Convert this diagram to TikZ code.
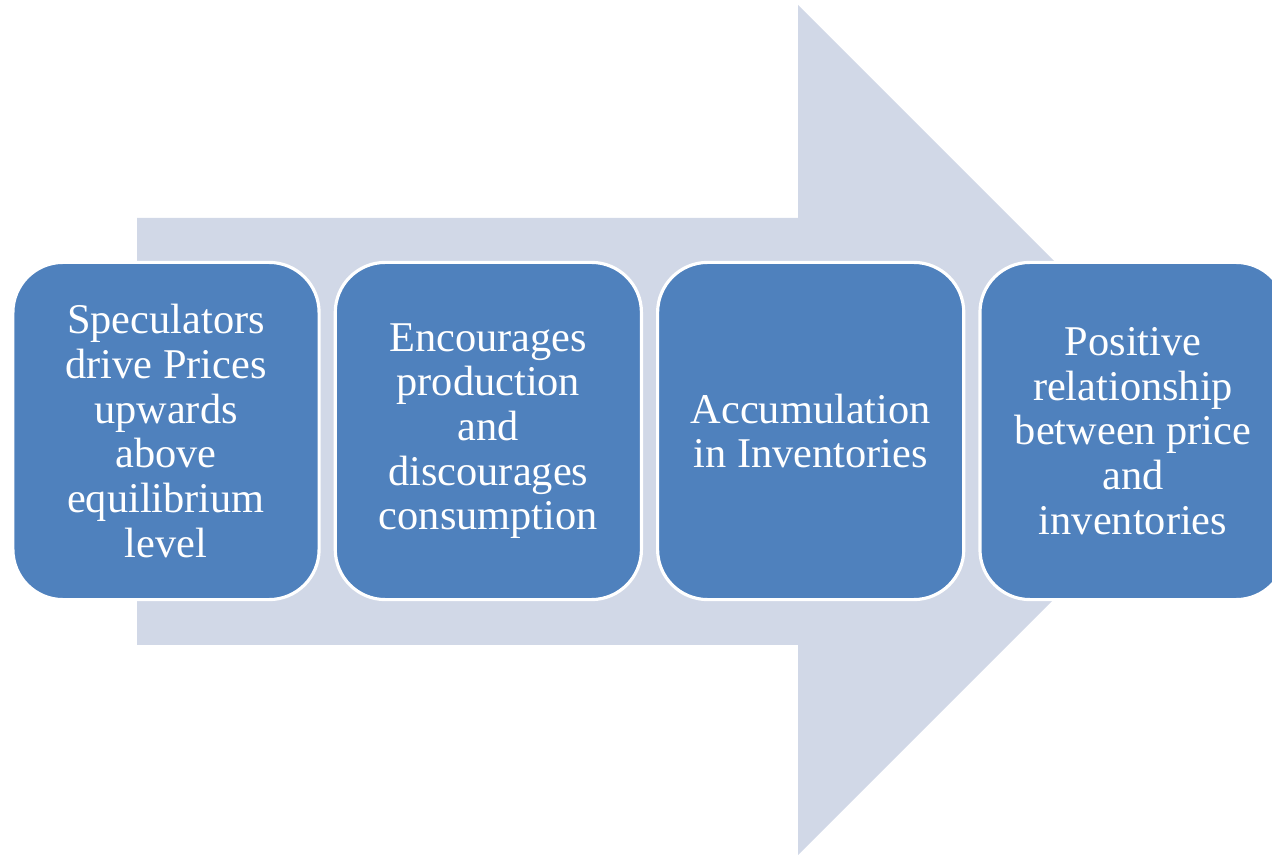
\documentclass[tikz,border=0pt]{standalone}
\usepackage{fontspec}
\setmainfont{Liberation Serif}
\usepackage{tikz}
\usetikzlibrary{positioning}
\definecolor{boxblue}{RGB}{79,129,189}
\definecolor{arrowgrey}{RGB}{209,216,231}

\begin{document}
\begin{tikzpicture}[x=0.01cm, y=-0.01cm, node distance = 0.13cm, stage/.style ={rectangle, rounded corners=0.5cm, draw=white, line width=0.9pt, fill=boxblue, text=white, minimum width=3.06cm, minimum height=3.37cm, align=center, inner sep=0pt, font=\fontsize{12.05}{12.7}\selectfont}]
\useasboundingbox (0,0) rectangle (1272,855);
% big arrow behind the boxes
\fill[arrowgrey] (137,218) -- (798,218) -- (798,5) -- (1223,430) -- (798,855) -- (798,645) -- (137,645) -- cycle;
\node[stage] (s1) at (166,431) {Speculators\\drive Prices\\upwards\\above\\equilibrium\\level};
\node[stage, right=of s1] (s2) {Encourages\\production\\and\\discourages\\consumption};
\node[stage, right=of s2] (s3) {Accumulation\\in Inventories};
\node[stage, right=of s3] (s4) {Positive\\relationship\\between price\\and\\inventories};
\end{tikzpicture}
\end{document}
